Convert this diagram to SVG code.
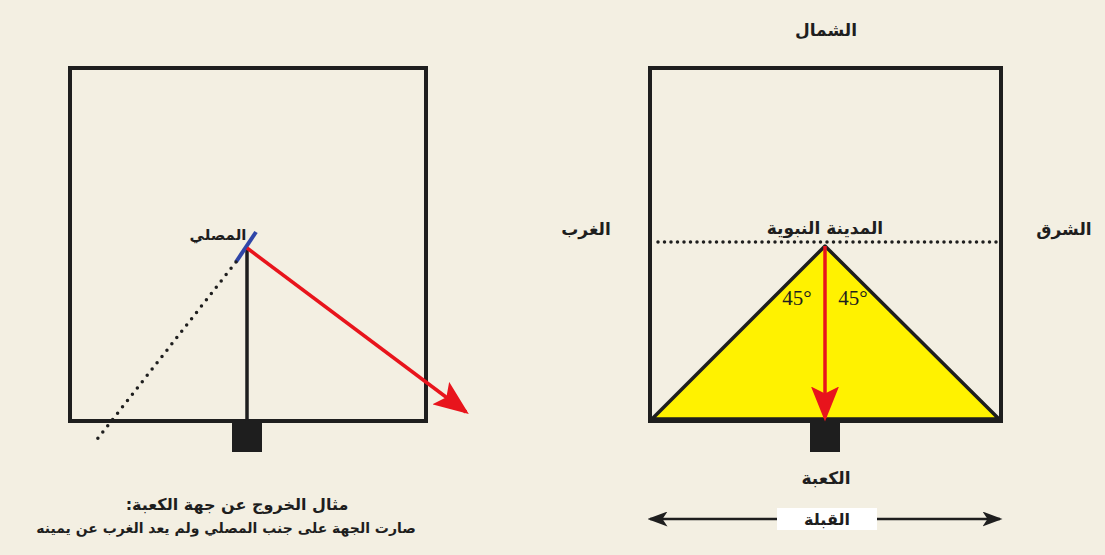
<svg xmlns="http://www.w3.org/2000/svg" width="1105" height="555" viewBox="0 0 1105 555">
<style>
.ar{font-family:"DejaVu Sans",sans-serif;font-weight:bold;fill:#1e1e1e;text-anchor:middle;direction:rtl;unicode-bidi:embed}
.box{fill:none;stroke:#1e1e1e;stroke-width:4}
.kaaba{fill:#1e1e1e}
.deg{font-family:"Liberation Serif",serif;font-size:21px;fill:#1e1e1e;text-anchor:middle}
</style>
<defs>
<marker id="redhead" markerWidth="10" markerHeight="8" refX="9" refY="4" orient="auto" markerUnits="strokeWidth">
<path d="M0,0 L10,4 L0,8 L2,4 Z" fill="#e8141c"/>
</marker>
<marker id="blkhead" markerWidth="8" markerHeight="6" refX="7" refY="3" orient="auto-start-reverse" markerUnits="strokeWidth">
<path d="M0,0 L8,3 L0,6 L2,3 Z" fill="#1e1e1e"/>
</marker>
</defs>
<rect width="1105" height="555" fill="#f3efe2"/>

<g id="left-diagram">
<rect class="box" x="70" y="68" width="356" height="353"/>
<rect class="kaaba" x="232" y="421" width="30" height="31"/>
<line x1="247" y1="248" x2="247" y2="421" stroke="#1e1e1e" stroke-width="3.5"/>
</g>
<g id="musalli">
<line x1="236" y1="262" x2="256" y2="232" stroke="#2f46a8" stroke-width="4"/>
<text class="ar" x="218" y="240" font-size="15" direction="rtl">المصلي</text>
</g>

<g id="right-diagram">
<polygon points="825,246 652,419 999,419" fill="#fff200" stroke="#1e1e1e" stroke-width="3.5" stroke-linejoin="round"/>
<rect class="box" x="650" y="68" width="351" height="353"/>
<rect class="kaaba" x="810" y="421" width="30" height="31"/>
<text class="deg" x="797" y="305">45°</text>
<text class="deg" x="853" y="305">45°</text>
</g>

<g id="labels">
<text class="ar" x="826" y="36" font-size="17" direction="rtl">الشمال</text>
<text class="ar" x="586" y="235" font-size="17" direction="rtl">الغرب</text>
<text class="ar" x="1064" y="235" font-size="17" direction="rtl">الشرق</text>
<text class="ar" x="825" y="234" font-size="17" direction="rtl">المدينة النبوية</text>
<text class="ar" x="826" y="484" font-size="17" direction="rtl">الكعبة</text>
</g>

<g id="caption">
<text class="ar" x="237" y="510" font-size="16" direction="rtl">مثال الخروج عن جهة الكعبة:</text>
<text class="ar" x="226" y="533" font-size="14" direction="rtl">صارت الجهة على جنب المصلي ولم يعد الغرب عن يمينه</text>
</g>

<g id="connectors">
<line x1="236" y1="262" x2="95" y2="442" stroke="#1e1e1e" stroke-width="3.5" stroke-dasharray="0 8" stroke-linecap="round"/>
<line x1="658" y1="242" x2="1000" y2="242" stroke="#1e1e1e" stroke-width="3.5" stroke-dasharray="0 6.5" stroke-linecap="round"/>
<line x1="247" y1="248" x2="466" y2="412" stroke="#e8141c" stroke-width="3.5" marker-end="url(#redhead)"/>
<line x1="825" y1="246" x2="825" y2="418" stroke="#e8141c" stroke-width="3.5" marker-end="url(#redhead)"/>
<line x1="650" y1="519" x2="1000" y2="519" stroke="#1e1e1e" stroke-width="2.5" marker-start="url(#blkhead)" marker-end="url(#blkhead)"/>
</g>
<g id="qibla">
<rect x="777" y="508" width="100" height="22" fill="#ffffff"/>
<text class="ar" x="827" y="525" font-size="16" direction="rtl">القبلة</text>
</g>
</svg>
